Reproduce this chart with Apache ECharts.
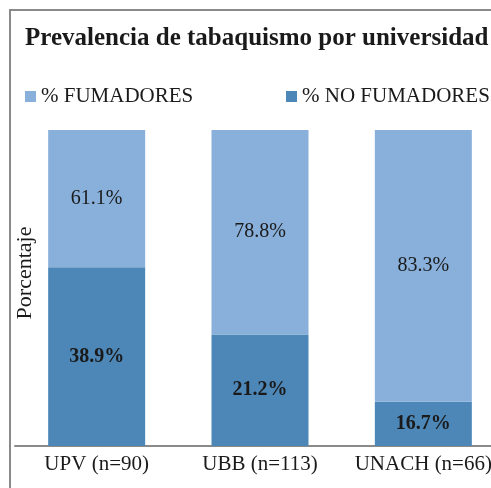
<!DOCTYPE html>
<html>
<head>
<meta charset="utf-8">
<script src="https://cdn.jsdelivr.net/npm/echarts@6/dist/echarts.min.js"></script>
<style>
  html, body { margin: 0; padding: 0; background: #fff; overflow: hidden; width: 491px; height: 488px; }
  #frame { position: absolute; left: 9px; top: 9px; width: 482px; height: 479px;
           border-left: 2px solid #8a8a8a; border-top: 2px solid #8a8a8a; }
  #main { position: absolute; left: 0; top: 0; width: 520px; height: 488px; }
</style>
</head>
<body>
<div id="frame"></div>
<div id="main"></div>
<script>
// categorias
var universidades = ['UPV (n=90)', 'UBB (n=113)', 'UNACH (n=66)']
// altura de las barras tal como se ven en la figura (%)
var noFumadores = [56.6, 35.3, 14.0]
var fumadores = [43.4, 64.7, 86.0]
// etiquetas impresas en la figura
var etiquetasFum = ['61.1%', '78.8%', '83.3%']
var etiquetasNoFum = ['38.9%', '21.2%', '16.7%']

var fuente = 'Liberation Serif'
var myChart = echarts.init(document.getElementById('main'))
var option = {
  animation: false,
  textStyle: { fontFamily: fuente },
  title: {
    text: 'Prevalencia de tabaquismo por universidad',
    left: 20,
    top: 21,
    textStyle: { fontFamily: fuente, fontSize: 25, fontWeight: 'bold', color: '#1a1a1a' }
  },
  legend: [
    {
      data: ['% FUMADORES'],
      left: 20,
      top: 81,
      itemWidth: 11,
      itemHeight: 11,
      icon: 'rect',
      textStyle: { fontFamily: fuente, fontSize: 21, color: '#1a1a1a' }
    },
    {
      data: ['% NO FUMADORES'],
      left: 281,
      top: 81,
      itemWidth: 11,
      itemHeight: 11,
      icon: 'rect',
      textStyle: { fontFamily: fuente, fontSize: 21, color: '#1a1a1a' }
    }
  ],
  grid: {
    left: 15,
    top: 130,
    width: 490,
    bottom: 42
  },
  xAxis: {
    type: 'category',
    data: universidades,
    axisTick: { show: false },
    axisLine: { lineStyle: { color: '#8a8a8a', width: 2 } },
    axisLabel: { interval: 0, fontFamily: fuente, fontSize: 21, color: '#1a1a1a', margin: 8 }
  },
  yAxis: {
    type: 'value',
    min: 0,
    max: 100,
    name: 'Porcentaje',
    nameLocation: 'middle',
    nameGap: -21,
    nameTextStyle: { fontFamily: fuente, fontSize: 22, color: '#1a1a1a', padding: [0, 0, 0, 30] },
    axisLine: { show: false },
    axisTick: { show: false },
    axisLabel: { show: false },
    splitLine: { show: false }
  },
  series: [
    {
      name: '% NO FUMADORES',
      type: 'bar',
      stack: 'total',
      barWidth: 97,
      itemStyle: { color: '#4d87b7' },
      label: {
        show: true,
        position: 'inside',
        fontFamily: fuente,
        fontSize: 20,
        fontWeight: 'bold',
        color: '#1a1a1a',
        formatter: function (p) { return etiquetasNoFum[p.dataIndex] }
      },
      data: noFumadores
    },
    {
      name: '% FUMADORES',
      type: 'bar',
      stack: 'total',
      barWidth: 97,
      itemStyle: { color: '#88b0da' },
      label: {
        show: true,
        position: 'inside',
        fontFamily: fuente,
        fontSize: 20,
        color: '#1a1a1a',
        formatter: function (p) { return etiquetasFum[p.dataIndex] }
      },
      data: fumadores
    }
  ]
}
myChart.setOption(option)
</script>
</body>
</html>
